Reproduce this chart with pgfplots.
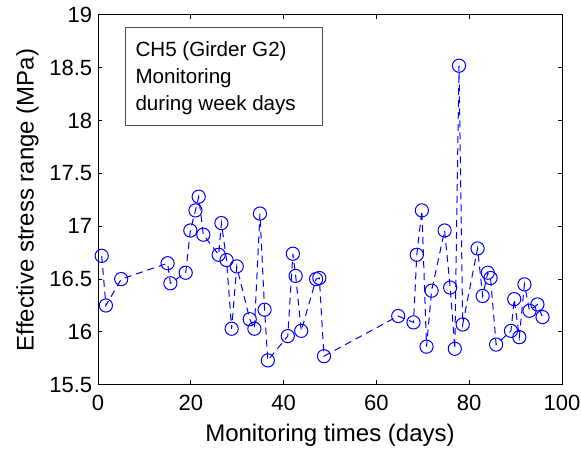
\documentclass[border=0pt]{standalone}
\usepackage{fontspec}
\setmainfont{Liberation Sans}
\usepackage{pgfplots}
\pgfplotsset{compat=1.18}
\begin{document}
\begin{tikzpicture}
\useasboundingbox (-49pt,-31.65pt) rectangle (241.5pt,192.35pt);
\begin{axis}[
  at={(0,0)}, anchor=south west,
  scale only axis, width=232pt, height=184.85pt,
  xmin=0, xmax=100, ymin=15.5, ymax=19,
  xtick={0,20,...,100}, ytick={15.5,16,...,19},
  minor tick num=0,
  tick align=inside, major tick length=2.2pt,
  axis line style={line width=0.5pt, black},
  every tick/.style={black, line width=0.5pt},
  /pgf/number format/assume math mode=true,
  yticklabel style={/pgf/number format/fixed, /pgf/number format/precision=1},
  ticklabel style={font=\fontsize{11pt}{13pt}\selectfont},
  xticklabel style={inner sep=0pt, anchor=north, yshift=-5.2pt},
  yticklabel style={inner sep=0pt, anchor=east, xshift=-2.7pt},
  xlabel={Monitoring times (days)},
  ylabel={Effective stress range (MPa)},
  label style={font=\fontsize{12pt}{14pt}\selectfont},
  xlabel style={at={(axis description cs:0.5,-0.1523)}, anchor=base, inner sep=0pt},
  ylabel style={at={(axis description cs:-0.1388,0.5)}, anchor=base, inner sep=0pt},
  clip=false,
]
\addplot[blue, line width=0.5pt, dash pattern=on 3.5pt off 2.5pt,
  mark=o, mark size=3.3pt, mark options={solid, line width=0.5pt}]
coordinates {
(0.8,16.72) (1.7,16.25) (5.0,16.50) (15.0,16.65) (15.6,16.46)
(18.9,16.56) (19.9,16.96) (21.0,17.15) (21.7,17.28) (22.7,16.92)
(26.0,16.73) (26.6,17.03) (27.7,16.68) (28.8,16.03) (29.9,16.62)
(32.7,16.12) (33.7,16.03) (34.9,17.12) (35.9,16.21) (36.6,15.73)
(40.9,15.96) (42.0,16.74) (42.6,16.53) (43.8,16.01) (47.0,16.50)
(47.7,16.51) (48.7,15.77) (64.7,16.15) (68.0,16.09) (68.7,16.73)
(69.8,17.15) (70.8,15.86) (71.9,16.39) (74.7,16.96) (75.9,16.42)
(76.9,15.84) (77.8,18.52) (78.6,16.07) (81.8,16.79) (82.9,16.34)
(84.0,16.56) (84.6,16.51) (85.8,15.88) (89.0,16.01) (89.7,16.31)
(90.8,15.95) (91.9,16.45) (93.0,16.20) (94.7,16.26) (95.8,16.14)
};
\draw[black!70, line width=0.5pt] (axis cs:5.82,18.88) rectangle (axis cs:48.3,17.955);
\node[anchor=base west, inner sep=0pt, font=\fontsize{10.3pt}{12pt}\selectfont] at (axis cs:8.0,18.6055) {CH5 (Girder G2)};
\node[anchor=base west, inner sep=0pt, font=\fontsize{10.3pt}{12pt}\selectfont] at (axis cs:8.0,18.352) {Monitoring};
\node[anchor=base west, inner sep=0pt, font=\fontsize{10.3pt}{12pt}\selectfont] at (axis cs:8.0,18.0985) {during week days};
\end{axis}
\end{tikzpicture}
\end{document}
